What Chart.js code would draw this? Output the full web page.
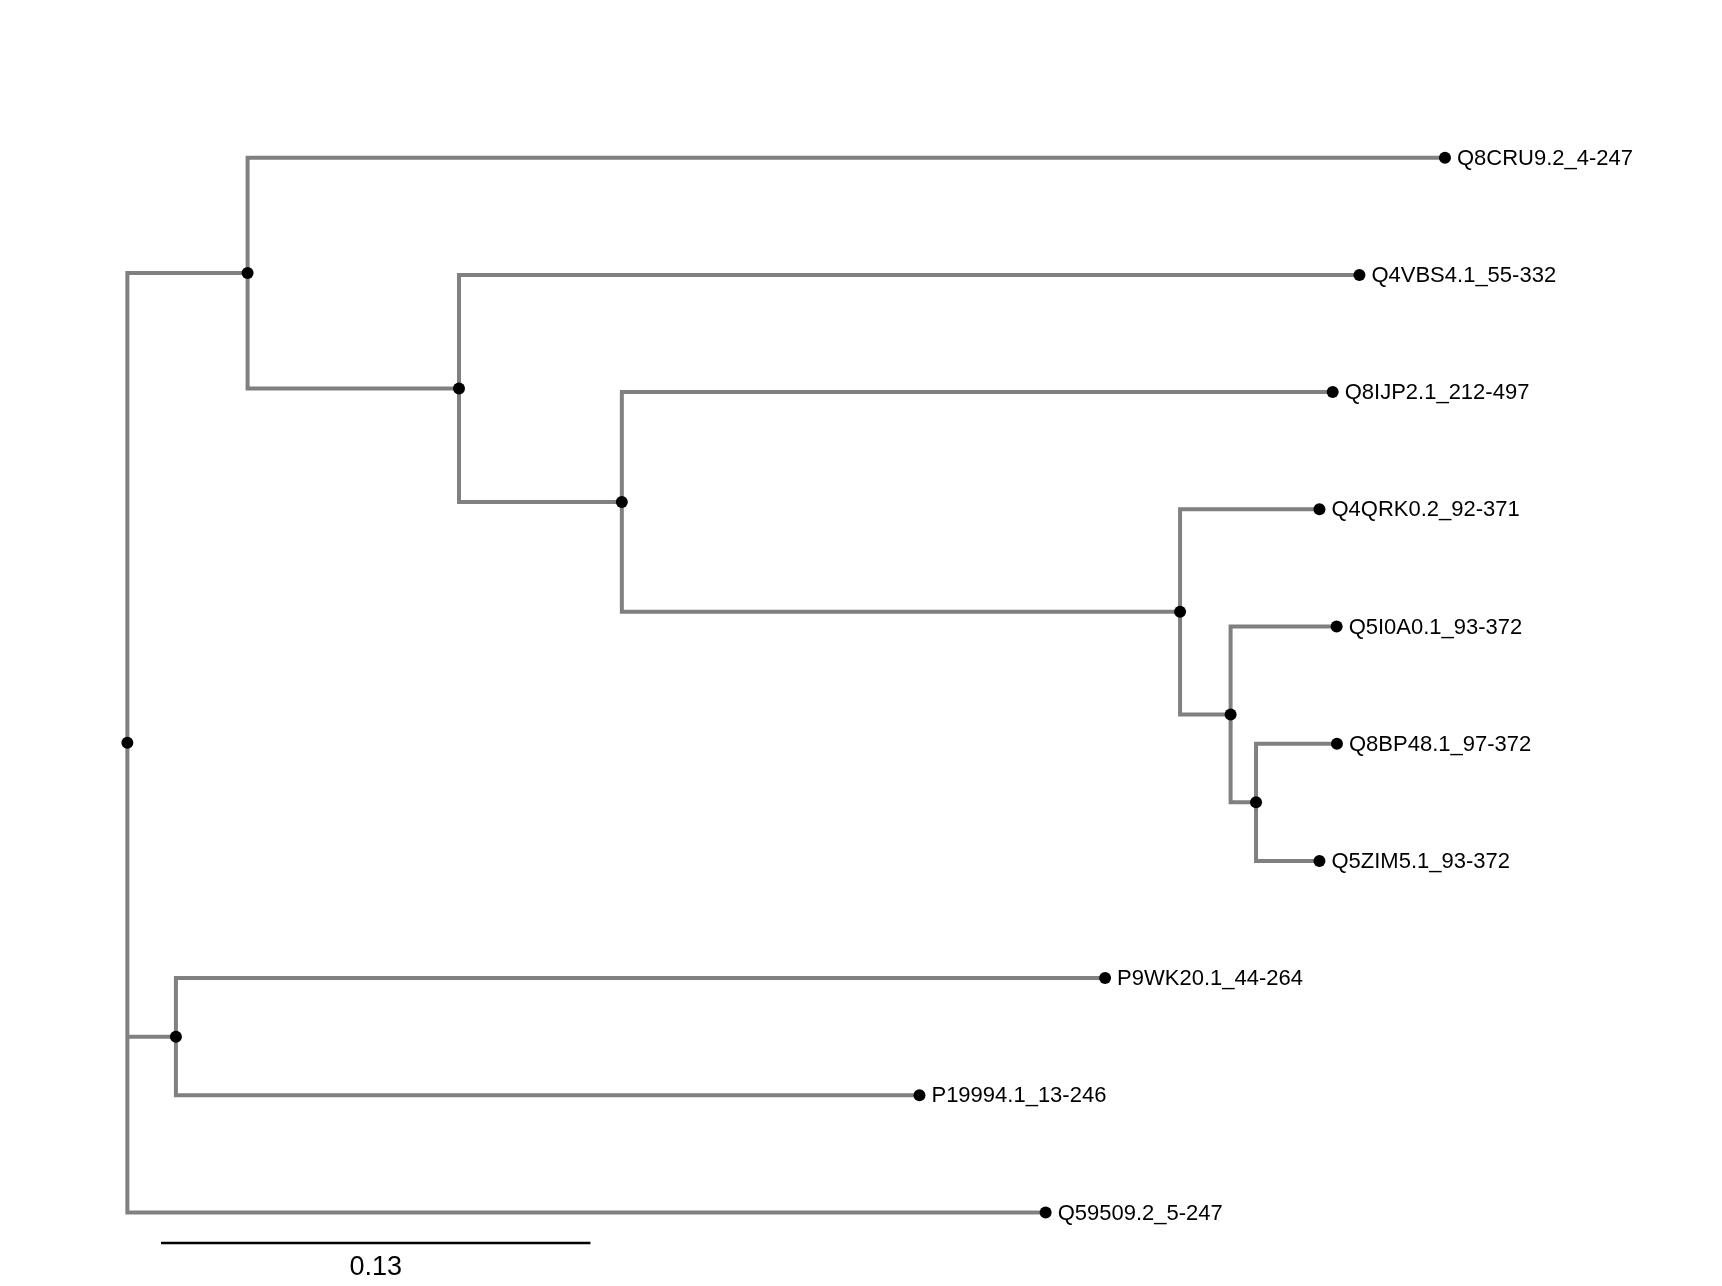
<!DOCTYPE html>
<html>
<head>
<meta charset="utf-8">
<script src="https://cdn.jsdelivr.net/npm/chart.js@4/dist/chart.umd.min.js"></script>
<style>
  html, body { margin: 0; padding: 0; background: #fff; }
  #wrap { width: 1722px; height: 1286px; }
</style>
</head>
<body>
<div id="wrap"><canvas id="tree" width="1722" height="1286"></canvas></div>
<script>
// leaves, top to bottom
const leafNames = ["Q8CRU9.2_4-247", "Q4VBS4.1_55-332", "Q8IJP2.1_212-497", "Q4QRK0.2_92-371",
  "Q5I0A0.1_93-372", "Q8BP48.1_97-372", "Q5ZIM5.1_93-372", "P9WK20.1_44-264",
  "P19994.1_13-246", "Q59509.2_5-247"];
// distance from root (substitutions/site)
const leafDepth = [0.3989, 0.3730, 0.3649, 0.3609, 0.3661, 0.3662, 0.3609, 0.2960, 0.2398, 0.2780];

// internal nodes: numbers in children = leaf index, strings = node id
const nodeIds = ["root", "n1", "n2", "n3", "n4", "n5", "n6", "n7"];
const nodeDepth = [0, 0.0364, 0.1004, 0.1497, 0.3187, 0.3340, 0.3417, 0.0147];
const nodeChildren = [["n1", "n7", 9], [0, "n2"], [1, "n3"], [2, "n4"], [3, "n5"], [4, "n6"], [5, 6], [7, 8]];

const scaleBarLength = 0.13;
const scaleBarLabel = "0.13";

// --- layout helpers
const nodeY = {};
function getY(c) {
  if (typeof c === "number") return c;
  if (nodeY[c] !== undefined) return nodeY[c];
  const kids = nodeChildren[nodeIds.indexOf(c)];
  const y = (getY(kids[0]) + getY(kids[kids.length - 1])) / 2;
  nodeY[c] = y;
  return y;
}
function getX(c) {
  return typeof c === "number" ? leafDepth[c] : nodeDepth[nodeIds.indexOf(c)];
}

const grey = "#808080";
const lineW = 4;
const datasets = [];

// node dots
const dots = [];
nodeIds.forEach(id => dots.push({ x: getX(id), y: getY(id) }));
leafDepth.forEach((d, i) => dots.push({ x: d, y: i }));
datasets.push({
  type: "scatter", data: dots, order: 0, clip: false,
  pointRadius: 6, pointBackgroundColor: "#000", pointBorderWidth: 0, showLine: false
});

// branches
nodeIds.forEach((id, k) => {
  const kids = nodeChildren[k];
  const nx = nodeDepth[k];
  const first = kids[0], last = kids[kids.length - 1];
  datasets.push({
    type: "line", order: 1, clip: false,
    data: [
      { x: getX(first), y: getY(first) },
      { x: nx, y: getY(first) },
      { x: nx, y: getY(last) },
      { x: getX(last), y: getY(last) }
    ],
    borderColor: grey, borderWidth: lineW, pointRadius: 0,
    borderJoinStyle: "miter", borderCapStyle: "butt", tension: 0, fill: false
  });
  kids.slice(1, -1).forEach(c => {
    datasets.push({
      type: "line", order: 1, clip: false,
      data: [{ x: nx, y: getY(c) }, { x: getX(c), y: getY(c) }],
      borderColor: grey, borderWidth: lineW, pointRadius: 0, borderCapStyle: "butt", fill: false
    });
  });
});

// scale bar
const barStart = 0.0102, barY = 9.26;
datasets.push({
  type: "line", order: 1, clip: false,
  data: [{ x: barStart, y: barY }, { x: barStart + scaleBarLength, y: barY }],
  borderColor: "#000", borderWidth: 2.5, pointRadius: 0, borderCapStyle: "butt", fill: false
});

const labelPlugin = {
  id: "treeLabels",
  afterDatasetsDraw(chart) {
    const ctx = chart.ctx;
    const xs = chart.scales.x, ys = chart.scales.y;
    ctx.save();
    ctx.fillStyle = "#000";
    ctx.textBaseline = "middle";
    ctx.textAlign = "left";
    ctx.font = "22px 'Liberation Sans', Arial, sans-serif";
    leafNames.forEach((name, i) => {
      ctx.fillText(name, xs.getPixelForValue(leafDepth[i]) + 12, ys.getPixelForValue(i) + 1);
    });
    ctx.textAlign = "center";
    ctx.font = "27px 'Liberation Sans', Arial, sans-serif";
    ctx.fillText(scaleBarLabel, xs.getPixelForValue(barStart + scaleBarLength / 2), ys.getPixelForValue(9.47));
    ctx.restore();
  }
};

new Chart(document.getElementById("tree"), {
  type: "scatter",
  data: { datasets },
  options: {
    responsive: false,
    animation: false,
    layout: { padding: { left: 61.3, right: 75.2, top: 99.1, bottom: 14.9 } },
    scales: {
      x: { type: "linear", min: -0.02, max: 0.46, display: false },
      y: { type: "linear", min: -0.5, max: 9.5, reverse: true, display: false }
    },
    plugins: { legend: { display: false }, tooltip: { enabled: false } }
  },
  plugins: [labelPlugin]
});
</script>
</body>
</html>
